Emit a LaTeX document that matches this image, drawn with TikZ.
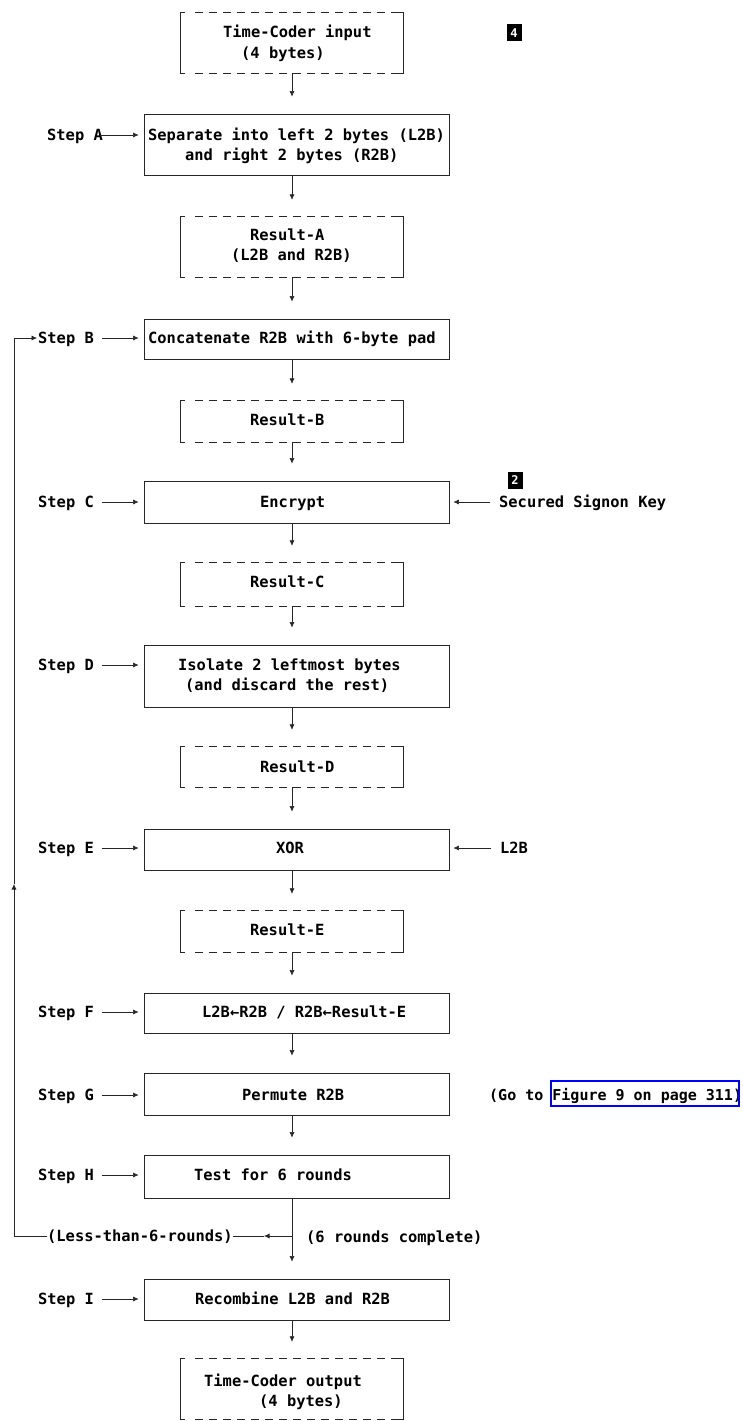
\documentclass[tikz,border=0pt]{standalone}
\usepackage{fontspec}
\newfontfamily\dvm{DejaVu Sans Mono}
\usetikzlibrary{calc,arrows.meta}
\begin{document}
\begin{tikzpicture}[x=1pt,y=-1pt,
  ln/.style={line width=0.6pt,draw=black!85},
  arr/.style={ln,-{Latex[length=5.5pt,width=5pt]}},
  sbox/.style={draw=black!85,line width=0.8pt,minimum width=305pt,inner sep=0pt},
  dbox/.style={minimum width=222pt,inner sep=0pt},
  side/.style={line width=0.8pt,draw=black!85},
  dsh/.style={line width=0.8pt,draw=black!85,dash pattern=on 8.3pt off 5.7pt},
  txt/.style={anchor=west,inner sep=0pt,text height=11.2pt,text depth=0pt,font=\dvm\bfseries\fontsize{15.4}{18}\selectfont},
  blk/.style={fill=black,text=white,inner sep=0pt,minimum width=15pt,minimum height=17pt,font=\dvm\bfseries\fontsize{12}{14}\selectfont}
]
\useasboundingbox (0,0) rectangle (743,1421);
\fill[white] (0,0) rectangle (743,1421);

% boxes
\node[dbox,minimum height=60pt] (in) at (292,43) {};
\node[sbox,minimum height=61pt] (A) at (296.5,144.5) {};
\node[dbox,minimum height=60pt] (rA) at (292,247) {};
\node[sbox,minimum height=40pt] (B) at (296.5,339) {};
\node[dbox,minimum height=41pt] (rB) at (292,421.5) {};
\node[sbox,minimum height=42pt] (C) at (296.5,502) {};
\node[dbox,minimum height=43pt] (rC) at (292,584.5) {};
\node[sbox,minimum height=62pt] (D) at (296.5,676) {};
\node[dbox,minimum height=40pt] (rD) at (292,767) {};
\node[sbox,minimum height=41pt] (E) at (296.5,849.5) {};
\node[dbox,minimum height=41pt] (rE) at (292,931.5) {};
\node[sbox,minimum height=40pt] (F) at (296.5,1013) {};
\node[sbox,minimum height=42pt] (G) at (296.5,1094) {};
\node[sbox,minimum height=43pt] (H) at (296.5,1176.5) {};
\node[sbox,minimum height=41pt] (I) at (296.5,1299.5) {};
\node[dbox,minimum height=60pt] (out) at (292,1389) {};

\foreach \n in {in,rA,rB,rC,rD,rE,out}{
  \draw[side] ([xshift=4pt]\n.north west) -- (\n.north west) -- (\n.south west) -- ([xshift=4pt]\n.south west);
  \draw[side] ([xshift=-4pt]\n.north east) -- (\n.north east) -- (\n.south east) -- ([xshift=-4pt]\n.south east);
  \draw[dsh] ([xshift=14pt]\n.north west) -- ([xshift=-4pt]\n.north east);
  \draw[dsh] ([xshift=14pt]\n.south west) -- ([xshift=-4pt]\n.south east);
}

% box texts
\node[txt] (t1) at (223,32) {Time-Coder input};
\node[txt] (t2) at (241,53) {(4 bytes)};
\node[txt] (t3) at (148,135) {Separate into left 2 bytes (L2B)};
\node[txt] (t4) at (185,155) {and right 2 bytes (R2B)};
\node[txt] (t5) at (250,235) {Result-A};
\node[txt] (t6) at (231,255) {(L2B and R2B)};
\node[txt] (t7) at (148,338) {Concatenate R2B with 6-byte pad};
\node[txt] (t8) at (250,420) {Result-B};
\node[txt] (t9) at (260,502) {Encrypt};
\node[txt] (t10) at (250,582) {Result-C};
\node[txt] (t11) at (178,665) {Isolate 2 leftmost bytes};
\node[txt] (t12) at (185,685) {(and discard the rest)};
\node[txt] (t13) at (260,767) {Result-D};
\node[txt] (t14) at (276,848) {XOR};
\node[txt] (t15) at (250,930) {Result-E};
\node[txt] (t16) at (202,1012) {L2B←R2B / R2B←Result-E};
\node[txt] (t17) at (242,1095) {Permute R2B};
\node[txt] (t18) at (194,1175) {Test for 6 rounds};
\node[txt] (t19) at (195,1299) {Recombine L2B and R2B};
\node[txt] (t20) at (204,1381) {Time-Coder output};
\node[txt] (t21) at (259,1401) {(4 bytes)};

% black markers
\node[blk] (n4) at (514,33) {4};
\node[blk] (n2) at (515,480) {2};

% vertical connectors
\draw[arr] (in.south) -- ($(A.north -| in.south)+(0,-17)$);
\draw[arr] (A.south -| in.south) -- ($(rA.north)+(0,-17)$);
\draw[arr] (rA.south) -- ($(B.north -| in.south)+(0,-17)$);
\draw[arr] (B.south -| in.south) -- ($(rB.north)+(0,-17)$);
\draw[arr] (rB.south) -- ($(C.north -| in.south)+(0,-17)$);
\draw[arr] (C.south -| in.south) -- ($(rC.north)+(0,-17)$);
\draw[arr] (rC.south) -- ($(D.north -| in.south)+(0,-17)$);
\draw[arr] (D.south -| in.south) -- ($(rD.north)+(0,-17)$);
\draw[arr] (rD.south) -- ($(E.north -| in.south)+(0,-17)$);
\draw[arr] (E.south -| in.south) -- ($(rE.north)+(0,-17)$);
\draw[arr] (rE.south) -- ($(F.north -| in.south)+(0,-17)$);
\draw[arr] (F.south -| in.south) -- ($(G.north -| in.south)+(0,-17)$);
\draw[arr] (G.south -| in.south) -- ($(H.north -| in.south)+(0,-17)$);
\draw[arr] (H.south -| in.south) -- ($(I.north -| in.south)+(0,-17)$);
\draw[arr] (I.south -| in.south) -- ($(out.north)+(0,-17)$);

% step labels
\node[txt] (sA) at (47,135) {Step A};
\node[txt] (sB) at (38,338) {Step B};
\node[txt] (sC) at (38,502) {Step C};
\node[txt] (sD) at (38,665) {Step D};
\node[txt] (sE) at (38,848) {Step E};
\node[txt] (sF) at (38,1012) {Step F};
\node[txt] (sG) at (38,1095) {Step G};
\node[txt] (sH) at (38,1175) {Step H};
\node[txt] (sI) at (38,1299) {Step I};
\draw[arr] ($(sA.east)+(-3,0)$) -- ($(A.west |- sA.east)+(-5,0)$);
\foreach \s/\b in {sB/B,sC/C,sD/D,sE/E,sF/F,sG/G,sH/H,sI/I}{
  \draw[arr] ($(\s.east)+(8,0)$) -- ($(\b.west |- \s.east)+(-5,0)$);
}

% right-side inputs
\node[txt] (sk) at (499,502) {Secured Signon Key};
\node[txt] (lk) at (500,848) {L2B};
\draw[arr] ($(sk.west)+(-9,0)$) -- ($(C.east |- sk.west)+(4,0)$);
\draw[arr] ($(lk.west)+(-9,0)$) -- ($(E.east |- lk.west)+(4,0)$);

% link
\node[txt,font=\dvm\bfseries\fontsize{15}{18}\selectfont] (go) at (489,1095) {(Go to Figure 9 on page 311)};
\node[draw=blue,line width=1.2pt,minimum width=188pt,minimum height=25pt,inner sep=0pt] (lnkbox) at (645,1093.5) {};

% loop
\node[txt,fill=white] (less) at (47,1236) {(Less-than-6-rounds)};
\node[txt] (compl) at (306,1237) {(6 rounds complete)};
\coordinate (sp) at (in.south |- less.east);
\coordinate (am) at ($(sp)+(-28,0)$);
\coordinate (lc) at ($(less.west)+(-33,0)$);
\coordinate (up) at ($(lc)+(0,-352)$);
\coordinate (lt) at (lc |- sB.west);
\draw[arr] (sp) -- (am);
\draw[ln] (am) -- (less.east);
\draw[ln] (less.west) -- (lc);
\draw[arr] (lc) -- (up);
\draw[arr] (up) -- (lt) -- ($(sB.west)+(-1,0)$);
\end{tikzpicture}
\end{document}
